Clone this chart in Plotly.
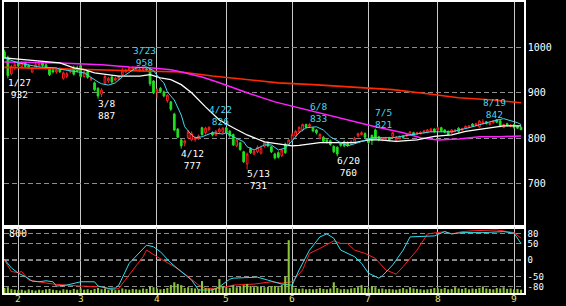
import plotly.graph_objects as go

# ---------------- data (trading-day index: 0 = 2022-02-01) ----------------
DAY = list(range(-4, 146))

OPEN = [990,978,942,955,968,958,966,960,946,955,
        960,966,962,952,950,946,952,932,936,946,
        956,955,960,936,947,929,922,910,897,922,
        926,935,928,930,940,946,950,952,950,949,
        950,953,952,926,902,910,902,883,880,853,
        820,796,789,801,796,797,800,823,812,819,
        812,807,814,813,823,815,808,783,790,770,
        743,777,765,770,767,782,790,781,765,768,
        761,787,785,796,805,814,818,830,826,822,
        818,800,802,796,794,782,780,790,792,790,
        787,792,805,808,810,798,806,818,803,796,
        797,800,804,796,799,805,805,808,812,809,
        810,812,813,815,820,818,823,818,815,812,
        815,822,818,822,824,831,828,825,832,836,
        830,834,841,838,824,832,826,830,826,824]
HIGH = [995,982,962,966,972,970,969,963,957,966,
        970,970,965,955,955,953,956,947,946,952,
        960,960,962,949,950,935,925,912,910,940,
        935,938,935,938,955,953,957,958,957,955,
        956,955,955,928,910,913,905,897,882,856,
        822,798,797,818,815,804,808,825,825,826,
        815,818,823,824,824,818,810,800,792,772,
        768,780,774,784,782,793,793,783,768,771,
        776,790,798,812,818,826,832,832,833,825,
        820,811,805,799,797,784,782,792,795,793,
        795,803,812,815,813,800,808,821,805,802,
        803,803,813,804,806,807,810,816,814,814,
        815,818,820,822,822,825,825,820,817,820,
        820,824,823,828,829,833,834,840,842,838,
        836,840,841,840,832,834,831,832,828,826]
LOW = [975,932,938,950,957,955,955,952,944,952,
       957,957,952,937,943,942,944,929,932,943,
       938,945,933,933,931,926,904,887,891,918,
       922,920,925,928,938,944,948,949,948,946,
       947,948,915,897,888,900,890,878,860,815,
       800,777,782,798,793,792,796,805,808,815,
       804,804,811,810,810,801,783,780,772,745,
       731,765,762,767,764,779,780,767,753,755,
       758,765,782,793,802,810,815,821,823,813,
       808,797,790,788,783,767,760,781,780,781,
       784,789,802,806,799,787,785,798,793,793,
       795,793,801,794,797,798,803,806,805,807,
       808,810,811,813,812,816,813,811,806,810,
       813,812,816,820,822,825,826,823,830,830,
       828,832,834,824,822,826,824,821,820,817]
CLOSE = [978,938,958,962,960,966,958,955,955,962,
         965,960,956,940,946,950,946,944,942,949,
         941,948,936,946,934,932,907,893,906,936,
         932,924,932,936,948,950,955,955,954,952,
         954,951,920,900,907,903,893,895,864,818,
         802,783,794,814,810,801,805,808,822,824,
         807,815,820,822,812,805,785,796,775,748,
         765,768,771,780,778,790,783,770,756,758,
         774,768,796,808,815,824,830,824,830,816,
         812,808,793,791,786,770,765,784,783,784,
         793,800,810,812,802,790,795,801,796,800,
         800,796,812,802,803,801,808,814,807,812,
         813,816,818,820,814,823,816,813,808,818,
         818,815,821,826,827,827,832,838,836,832,
         834,838,835,826,830,828,829,823,822,819]
VOLUME = [60,70,45,40,35,40,30,45,35,30,
          40,35,45,50,40,35,30,45,40,35,
          50,40,55,40,45,35,50,60,45,55,
          40,45,35,40,55,45,40,50,45,40,
          55,50,80,70,55,45,50,60,95,130,
          110,95,60,70,60,55,50,145,60,55,
          50,60,170,80,70,60,95,70,80,95,
          110,85,70,80,75,70,75,80,85,70,
          95,200,640,90,60,50,55,45,50,45,
          50,60,50,45,55,130,60,45,50,45,
          55,60,70,95,60,55,85,70,50,55,
          45,50,45,40,50,60,45,70,55,50,
          45,40,45,50,60,55,50,60,45,50,
          70,55,50,60,45,55,50,60,80,55,
          50,45,60,55,70,50,55,45,50,40]

# moving averages (read at sample days)
CYAN_X = [-4,0,6,11,12,16,19,23,24,26,28,30,34,37,39,41,42,43,45,47,
          48,50,51,53,56,59,60,62,65,66,68,71,73,75,77,79,81,83,86,88,
          90,93,95,98,100,102,105,108,113,119,125,130,136,140,144,145]
CYAN_Y = [977,966,957,955,952,948,944,924,920,917,922,935,955,957,949,929,922,902,884,851,
          825,807,801,803,812,809,812,803,792,781,774,785,785,774,778,794,812,823,825,818,
          803,790,783,790,796,801,801,801,807,814,814,823,836,843,834,830]
WHITE_X = [-4,8,12,16,19,22,26,29,35,38,41,44,47,50,54,58,62,66,71,75,
           79,81,87,92,97,101,104,109,115,120,125,129,135,140,145]
WHITE_Y = [977,968,966,955,951,944,940,937,937,940,933,929,918,900,869,840,823,807,792,787,
           783,784,790,790,790,796,796,793,796,804,807,815,822,827,827]
MAG_X = [-4,12,24,32,38,44,47,53,58,66,74,81,89,97,103,111,116,121,127,133,139,145]
MAG_Y = [968,966,962,957,955,951,946,935,922,900,880,867,851,836,825,812,801,796,798,803,803,805]
RED_X = [-4,24,38,47,56,66,75,85,95,102,108,118,127,137,145]
RED_Y = [956,951,948,946,937,929,922,918,913,909,907,898,889,884,878]

# oscillators (lower panel)
RC_X = [-4,-2,0,2,4,6,8,10,11,14,18,22,23,26,28,29,32,35,37,39,
        41,44,47,50,52,56,58,61,62,69,72,76,79,81,84,87,89,91,93,96,
        97,99,101,104,105,108,111,113,120,123,125,128,134,140,143,145]
RC_Y = [2,-24,-40,-50,-64,-66,-63,-66,-79,-76,-66,-66,-79,-86,-85,-76,-10,25,45,40,
        25,-9,-35,-61,-91,-91,-81,-58,-55,-52,-61,-73,-76,-30,30,70,79,66,30,15,
        10,-10,-40,-55,-48,-15,30,70,73,86,79,83,83,86,81,50]
RR_X = [-4,-2,0,1,3,6,10,14,18,24,27,29,33,36,37,40,45,49,52,54,
        58,62,68,73,76,79,82,84,87,91,93,95,97,100,103,106,109,111,115,118,
        123,125,128,132,138,143,145]
RR_Y = [0,-35,-38,-35,-61,-66,-73,-76,-79,-81,-91,-86,-30,10,30,10,-20,-50,-76,-86,
        -86,-76,-73,-66,-70,-66,-30,20,35,58,50,50,30,20,5,-30,-43,-20,30,79,
        86,79,86,89,91,83,66]

# peak / trough labels
HI_DAY = [33, 55, 84, 103, 134]
HI_DATE = ["3/23", "4/22", "6/8", "7/5", "8/19"]
HI_VAL = [958, 826, 833, 821, 842]
LO_DAY = [-3, 23, 47, 66, 92]
LO_DATE = ["1/27", "3/8", "4/12", "5/13", "6/20"]
LO_VAL = [932, 887, 777, 731, 760]

MONTH_DAY = [0, 18, 40, 60, 79, 101, 121, 143]
MONTH_TXT = ["2", "3", "4", "5", "6", "7", "8", "9"]
PRICE_TICKS = [700, 800, 900, 1000, 1100]
OSC_TICKS = [-80, -50, 0, 50, 80]
OSC_TXT = ["-80", "-50", "0", "50", "80"]

# ---------------- style ----------------
FONT = "DejaVu Sans Mono"
UPC = "#ff2020"
DNC = "#20e020"
CYAN = "#40d8f0"
XR = [-4.12, 145.86]

fig = go.Figure()

fig.add_trace(go.Scatter(x=RED_X, y=RED_Y, mode="lines", line=dict(color="#ff2a00", width=1.6),
                         xaxis="x", yaxis="y", hoverinfo="skip"))
fig.add_trace(go.Scatter(x=MAG_X, y=MAG_Y, mode="lines", line=dict(color="#ff20ff", width=1.5),
                         xaxis="x", yaxis="y", hoverinfo="skip"))
fig.add_trace(go.Scatter(x=WHITE_X, y=WHITE_Y, mode="lines", line=dict(color="#ffffff", width=1.3),
                         xaxis="x", yaxis="y", hoverinfo="skip"))
fig.add_trace(go.Scatter(x=CYAN_X, y=CYAN_Y, mode="lines", line=dict(color=CYAN, width=1),
                         xaxis="x", yaxis="y", hoverinfo="skip"))
fig.add_trace(go.Candlestick(
    x=DAY, open=OPEN, high=HIGH, low=LOW, close=CLOSE,
    increasing=dict(line=dict(color=UPC, width=1), fillcolor="#000000"),
    decreasing=dict(line=dict(color=DNC, width=1), fillcolor=DNC),
    whiskerwidth=0, xaxis="x", yaxis="y", hoverinfo="skip"))

fig.add_trace(go.Bar(x=DAY, y=VOLUME, marker=dict(color="#8cc43c", line=dict(width=0)),
                     width=0.6, xaxis="x2", yaxis="y3", hoverinfo="skip"))
fig.add_trace(go.Scatter(x=RR_X, y=RR_Y, mode="lines", line=dict(color="#ff2020", width=1),
                         xaxis="x2", yaxis="y2", hoverinfo="skip"))
fig.add_trace(go.Scatter(x=RC_X, y=RC_Y, mode="lines", line=dict(color="#30e0f0", width=1),
                         xaxis="x2", yaxis="y2", hoverinfo="skip"))

SPLIT = 66 / 291
axis_common = dict(showline=True, linecolor="white", linewidth=1.5, mirror=True,
                   zeroline=False, fixedrange=True, automargin=False)
fig.update_layout(
    width=566, height=306, margin=dict(l=4, r=42, t=2, b=13, autoexpand=False),
    paper_bgcolor="black", plot_bgcolor="black", showlegend=False,
    xaxis=dict(range=XR, anchor="y", tickvals=MONTH_DAY, showticklabels=False, ticks="",
               showgrid=True, gridcolor="#c8c8c8", gridwidth=1,
               rangeslider=dict(visible=False), **axis_common),
    xaxis2=dict(range=XR, anchor="y2", tickvals=MONTH_DAY, showticklabels=False, ticks="",
                showgrid=True, gridcolor="#c8c8c8", gridwidth=1, **axis_common),
    yaxis=dict(domain=[SPLIT, 1], range=[604, 1100.3], side="right", anchor="x",
               tickvals=PRICE_TICKS, ticks="",
               tickfont=dict(color="white", size=10, family=FONT),
               showgrid=True, gridcolor="#8c8c8c", griddash="5px,3px", **axis_common),
    yaxis2=dict(domain=[0, SPLIT], range=[-100, 100], side="right", anchor="x2",
                tickvals=OSC_TICKS, ticktext=OSC_TXT, ticks="",
                tickfont=dict(color="white", size=9, family=FONT),
                showgrid=True, gridcolor="#8c8c8c", griddash="5px,3px", **axis_common),
    yaxis3=dict(overlaying="y2", range=[0, 800], visible=False, fixedrange=True),
)

fig.add_shape(type="line", xref="paper", x0=0, x1=1, yref="y2", y0=0, y1=0,
              line=dict(color="white", width=1, dash="5px,3px"), layer="below")

# month labels under the lower panel
for d, t in zip(MONTH_DAY, MONTH_TXT):
    fig.add_annotation(x=d, y=0, xref="x2", yref="paper", text=t, showarrow=False,
                       xanchor="center", yanchor="top", yshift=1, borderpad=0,
                       font=dict(color="#ece070", size=9.5, family=FONT))

LFS = 9.5
for d, t, v in zip(LO_DAY, LO_DATE, LO_VAL):
    fig.add_annotation(x=d, y=v, xref="x", yref="y", text=f"{t}<br>{v}", showarrow=False,
                       xanchor="left", yanchor="top", align="center", xshift=-2, yshift=3,
                       font=dict(color="white", size=LFS, family=FONT))
for d, t, v in zip(HI_DAY, HI_DATE, HI_VAL):
    fig.add_annotation(x=d, y=v, xref="x", yref="y", text=f"{t}<br>{v}", showarrow=False,
                       xanchor="left", yanchor="bottom", align="center", xshift=-2, yshift=-3,
                       font=dict(color=CYAN, size=LFS, family=FONT))

fig.add_annotation(x=XR[0], y=100, xref="x2", yref="y2", text="800", showarrow=False,
                   xanchor="left", yanchor="top", xshift=3, yshift=1,
                   font=dict(color="white", size=10, family=FONT))

fig.write_html("out.html")
